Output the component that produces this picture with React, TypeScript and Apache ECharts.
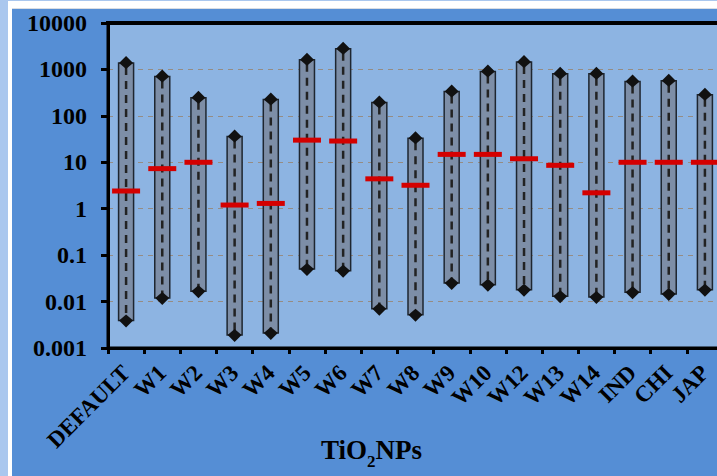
import React, { useEffect, useRef } from "react";
import * as echarts from "echarts";

const categories = ["DEFAULT", "W1", "W2", "W3", "W4", "W5", "W6", "W7", "W8", "W9", "W10", "W12", "W13", "W14", "IND", "CHI", "JAP"];
const lowValues = [0.0039, 0.012, 0.0166, 0.0019, 0.0021, 0.05, 0.046, 0.007, 0.0052, 0.025, 0.023, 0.018, 0.013, 0.0126, 0.0158, 0.0146, 0.018];
const highValues = [1380, 708, 246, 36, 224, 1620, 2790, 195, 33, 336, 906, 1440, 809, 809, 552, 570, 285];
const medianValues = [2.4, 7.3, 10, 1.2, 1.3, 30, 28.7, 4.4, 3.2, 14.8, 14.8, 11.9, 8.6, 2.2, 10, 10, 10];
const yTickLabels = ["0.001", "0.01", "0.1", "1", "10", "100", "1000", "10000"];

const FONT = "'Liberation Serif', 'Times New Roman', serif";

export default function App() {
  const ref = useRef<HTMLDivElement>(null);
  useEffect(() => {
    if (!ref.current) return;
    const chart = echarts.init(ref.current, null, { renderer: "svg" });
    const data = categories.map((c, i) => [i, lowValues[i], highValues[i], medianValues[i]]);
    chart.setOption({
      animation: false,
      backgroundColor: "#aac7ee",
      graphic: [
        { type: "rect", z: -10, shape: { x: 8, y: 1, width: 800, height: 600 }, style: { fill: "#ffffff" } },
        { type: "rect", z: -10, shape: { x: 12, y: 8, width: 800, height: 600 }, style: { fill: "#d9dde3" } },
        { type: "rect", z: -10, shape: { x: 12, y: 9, width: 800, height: 600 }, style: { fill: "#558ed5" } },
        { type: "line", z: 100, shape: { x1: 106, y1: 23, x2: 730, y2: 23 }, style: { stroke: "#000", lineWidth: 4 } },
        {
          type: "text",
          left: 321,
          top: 436,
          style: {
            text: "{a|TiO}{b|2}{a|NPs}",
            rich: {
              a: { fontFamily: FONT, fontWeight: "bold", fontSize: 27, fill: "#000", lineHeight: 32, verticalAlign: "bottom" },
              b: { fontFamily: FONT, fontWeight: "bold", fontSize: 17, fill: "#000", lineHeight: 32, verticalAlign: "bottom", padding: [0, 0, -7, 0] },
            },
          },
        },
      ],
      grid: {
        left: 108,
        top: 23,
        right: 0,
        bottom: 128,
        show: true,
        backgroundColor: "#8db4e2",
        borderColor: "#000",
        borderWidth: 3,
      },
      xAxis: {
        type: "category",
        data: categories,
        boundaryGap: true,
        axisLine: { lineStyle: { color: "#000", width: 3 } },
        axisTick: { show: true, length: 6, inside: false, lineStyle: { color: "#000", width: 3 } },
        axisLabel: {
          rotate: 45,
          margin: 21,
          interval: 0,
          color: "#000",
          fontFamily: FONT,
          fontWeight: "bold",
          fontSize: 23,
        },
        splitLine: { show: false },
      },
      yAxis: {
        type: "log",
        logBase: 10,
        min: 0.001,
        max: 10000,
        splitNumber: 7,
        axisLine: { show: true, lineStyle: { color: "#000", width: 3 } },
        axisTick: { show: true, length: 7, lineStyle: { color: "#000", width: 3 } },
        minorTick: { show: false },
        axisLabel: {
          color: "#000",
          fontFamily: FONT,
          fontWeight: "bold",
          fontSize: 24,
          margin: 21,
          formatter: (v: number) => {
            const e = Math.round(Math.log10(v));
            return yTickLabels[e + 3] ?? String(v);
          },
        },
        splitLine: { show: true, lineStyle: { color: "#958c84", type: [5, 5], width: 1 } },
      },
      series: [
        {
          type: "custom",
          data,
          encode: { x: 0, y: [1, 2, 3] },
          renderItem: (params: any, api: any) => {
            const idx = api.value(0);
            const pLow = api.coord([idx, api.value(1)]);
            const pHigh = api.coord([idx, api.value(2)]);
            const pMed = api.coord([idx, api.value(3)]);
            const cx = pLow[0];
            const w = 15;
            const yTop = pHigh[1];
            const yBot = pLow[1];
            return {
              type: "group",
              children: [
                {
                  type: "rect",
                  shape: { x: cx - w / 2, y: yTop, width: w, height: yBot - yTop },
                  style: { fill: "#7d8ea7", stroke: "#1e2630", lineWidth: 1.5 },
                },
                {
                  type: "line",
                  shape: { x1: cx, y1: yTop + 4, x2: cx, y2: yBot - 4 },
                  style: { stroke: "#222222", lineWidth: 2.5, lineDash: [8, 6] },
                },
                {
                  type: "polygon",
                  shape: { points: [[cx, yTop - 7], [cx + 7, yTop], [cx, yTop + 6], [cx - 7, yTop]] },
                  style: { fill: "#111111" },
                },
                {
                  type: "polygon",
                  shape: { points: [[cx, yBot - 6], [cx + 7, yBot], [cx, yBot + 7], [cx - 7, yBot]] },
                  style: { fill: "#111111" },
                },
                {
                  type: "rect",
                  shape: { x: cx - 14, y: pMed[1] - 2.5, width: 28, height: 5 },
                  style: { fill: "#d40000" },
                },
              ],
            };
          },
        },
      ],
    });
    return () => chart.dispose();
  }, []);
  return (
    <div
      ref={ref}
      style={{ position: "fixed", left: 0, top: 0, width: 723, height: 476 }}
    />
  );
}
